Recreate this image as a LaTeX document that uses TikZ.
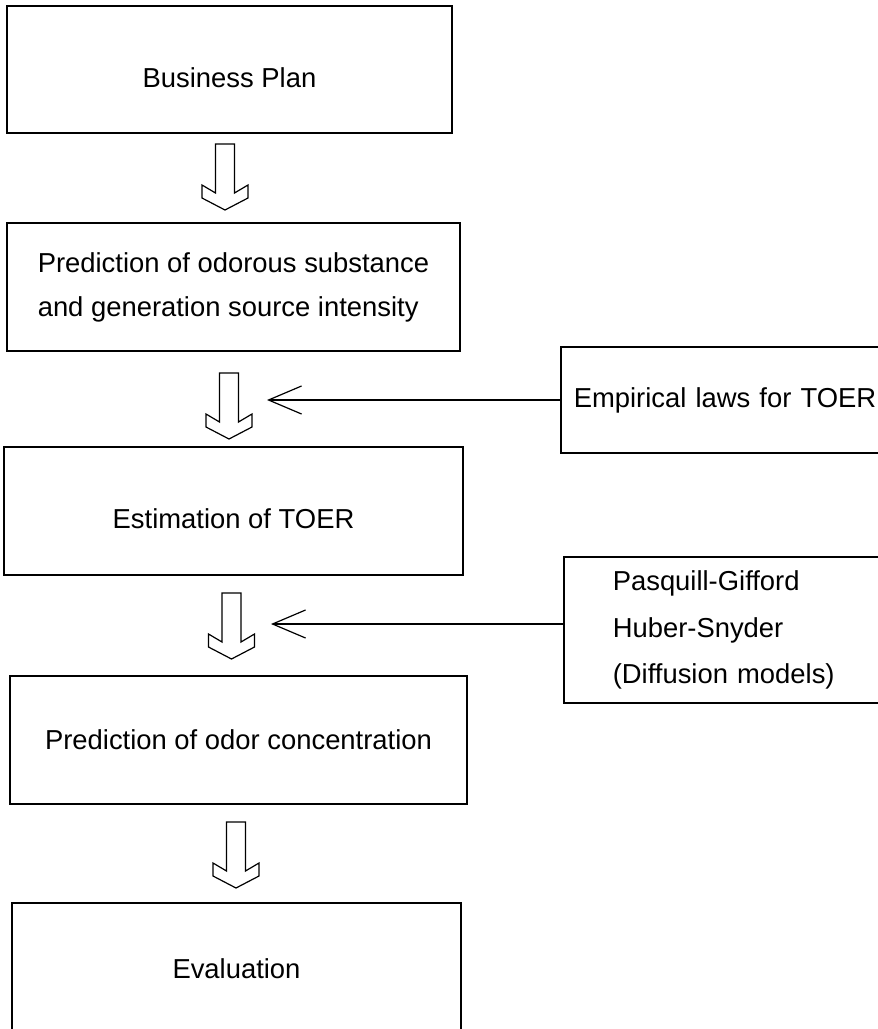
\documentclass[tikz,border=0pt]{standalone}
\usepackage{fontspec}
\setsansfont{Liberation Sans}
\usepackage{tikz}
\usetikzlibrary{arrows.meta,positioning,calc}

\begin{document}
\begin{tikzpicture}[x=0.5pt,y=-0.5pt,every node/.style={font=\sffamily\fontsize{13.7}{22}\selectfont}]
\tikzstyle{stage}=[draw,line width=0.8pt,inner sep=0pt,align=left]
\tikzstyle{source}=[draw,line width=0.8pt,align=left,anchor=west,inner ysep=0pt]
\tikzstyle{hollow}=[line width=0.6pt,line join=miter]
\tikzstyle{feed}=[-{Straight Barb[length=16.5pt,width=14pt]},line width=0.6pt]
\tikzset{bigdown/.pic={\draw[hollow] (-9.5,0)--(-9.5,49)--(-23,41)--(-23,54)--(0,66)--(23,54)--(23,41)--(9.5,49)--(9.5,0)--cycle;}}
\useasboundingbox (0,0) rectangle (878,1029);
% main chain
\node[stage,minimum width=222.5pt,minimum height=63.5pt,text height=18pt,text depth=0pt] (plan) at (229.5,69.5) {Business Plan};
\node[stage,minimum width=226.5pt,minimum height=64pt] (pred) at (233.5,287) {Prediction of odorous substance\\and generation source intensity};
\node[stage,minimum width=229.5pt,minimum height=64pt,text height=17pt,text depth=0pt] (est) at (233.5,511) {Estimation of TOER};
\node[stage,minimum width=228.5pt,minimum height=64pt] (conc) at (238.5,740) {Prediction of odor concentration};
\node[stage,minimum width=224.5pt,minimum height=66pt] (eval) at (236.5,969) {Evaluation};
% inputs
\node[source,minimum width=173pt,minimum height=53pt,inner xsep=6.5pt,text width=160pt] (emp) at (560,400) {Empirical laws for TOER};
\node[source,minimum width=170pt,minimum height=73pt,inner xsep=24.5pt,text width=121pt,font=\sffamily\fontsize{13.7}{23.25}\selectfont] (pasq) at (563,630) {Pasquill-Gifford\\Huber-Snyder\\(Diffusion models)};
% block arrows
\pic at (225,144) {bigdown};
\pic at (229,373) {bigdown};
\pic at (231.5,593) {bigdown};
\pic at (236,822) {bigdown};
\coordinate (tipa) at (267,400);
\coordinate (tipb) at (271,624);
\draw[feed] (emp.west) -- (tipa);
\draw[feed] (tipb -| pasq.west) -- (tipb);
\end{tikzpicture}
\end{document}
